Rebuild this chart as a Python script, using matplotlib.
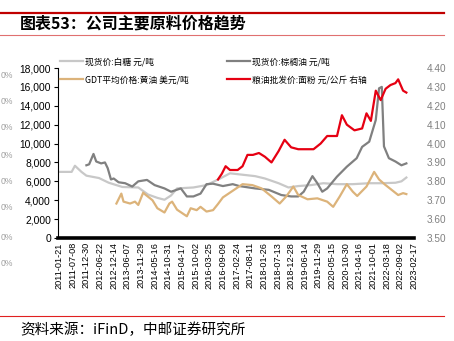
import matplotlib
matplotlib.use("Agg")
import matplotlib.pyplot as plt
from matplotlib.lines import Line2D
from matplotlib.ticker import FuncFormatter, MultipleLocator

plt.rcParams['font.family'] = ['Noto Sans CJK SC', 'DejaVu Sans']

# x axis: weekly data points, labelled every 25 points
tick_labels = ['2011-01-21', '2011-07-08', '2011-12-30', '2012-06-22', '2012-12-14',
               '2013-06-07', '2013-11-29', '2014-05-16', '2014-10-31', '2015-04-17',
               '2015-10-02', '2016-03-25', '2016-09-09', '2017-02-24', '2017-08-11',
               '2018-01-26', '2018-07-13', '2018-12-28', '2019-06-14', '2019-11-29',
               '2020-05-15', '2020-10-30', '2021-04-16', '2021-10-01', '2022-03-18',
               '2022-09-02', '2023-02-17']
tick_pos = [i * 25 for i in range(len(tick_labels))]

# 现货价:白糖 元/吨
sugar_idx = [0, 23, 29, 41, 50, 73, 91, 116, 145, 163, 180, 193, 205, 216, 246, 270, 295,
             313, 336, 359, 377, 402, 420, 438, 461, 484, 509, 538, 568, 591, 616, 627, 636]
sugar = [7000, 7000, 7650, 7000, 6600, 6350, 5850, 5400, 5350, 4600, 4250, 4050, 4500, 5250,
         5350, 5600, 6300, 6850, 6700, 6550, 6300, 5800, 5350, 5500, 5600, 5800, 5700, 5700,
         5800, 5800, 5850, 6000, 6400]

# 现货价:棕榈油 元/吨
palm_idx = [50, 55, 63, 68, 77, 84, 89, 95, 100, 109, 121, 134, 145, 161, 175, 193, 205, 223,
            234, 246, 259, 270, 282, 300, 318, 330, 359, 384, 407, 425, 438, 448, 464, 473, 482,
            491, 509, 527, 545, 555, 568, 580, 586, 591, 595, 604, 616, 627, 636]
palm = [7700, 7800, 8900, 8100, 7900, 8000, 7400, 6200, 6300, 5900, 5800, 5450, 6000, 6150,
        5600, 5250, 4900, 5250, 4400, 4400, 4700, 5700, 5750, 5500, 5700, 5500, 5250, 5100,
        4550, 4400, 4400, 4900, 6550, 5800, 4900, 5250, 6500, 7550, 8450, 9650, 10200, 12500,
        15850, 16000, 9700, 8450, 8100, 7700, 7900]

# GDT平均价格:黄油 美元/吨
butter_idx = [105, 114, 118, 130, 139, 145, 154, 159, 171, 180, 193, 202, 207, 216, 225, 234,
              241, 252, 259, 270, 282, 291, 300, 318, 336, 354, 371, 389, 404, 416, 429, 438,
              455, 473, 491, 502, 514, 527, 538, 546, 563, 577, 586, 598, 609, 621, 630, 636]
butter = [3650, 4700, 3850, 3650, 3850, 3500, 4800, 4550, 4000, 3150, 2700, 3650, 3850, 3000,
          2650, 2300, 3150, 2950, 3300, 2800, 2950, 3600, 4300, 5000, 5700, 5600, 5250, 4400,
          3650, 4400, 5450, 4550, 4100, 4200, 3850, 3300, 4400, 5700, 4900, 4450, 5450, 7000,
          6200, 5600, 5100, 4550, 4750, 4650]

# 粮油批发价:面粉 元/公斤 (右轴)
flour_idx = [291, 298, 305, 313, 318, 327, 336, 345, 355, 366, 377, 389, 402, 413, 425, 438,
             448, 466, 479, 491, 509, 518, 527, 541, 555, 563, 571, 580, 589, 598, 607, 616,
             621, 630, 636]
flour = [3.81, 3.84, 3.88, 3.86, 3.86, 3.86, 3.88, 3.94, 3.94, 3.95, 3.93, 3.90, 3.96, 4.02,
         3.98, 3.97, 3.97, 3.97, 4.00, 4.04, 4.04, 4.15, 4.10, 4.07, 4.08, 4.16, 4.12, 4.28,
         4.23, 4.29, 4.31, 4.32, 4.34, 4.28, 4.27]

fig = plt.figure(figsize=(4.54, 3.41), dpi=100)
W, H = 454, 341
ax = fig.add_axes([58 / W, 1 - 238 / H, (414 - 58) / W, (238 - 68) / H])
ax2 = ax.twinx()

l1, = ax.plot(sugar_idx, sugar, color='#c8c8c8', lw=1.6)
l2, = ax.plot(palm_idx, palm, color='#808080', lw=1.6)
l3, = ax.plot(butter_idx, butter, color='#dcb37a', lw=1.6)
l4, = ax2.plot(flour_idx, flour, color='#e60012', lw=1.6)

ax.set_xlim(-2, 638)
ax.set_ylim(0, 18000)
ax.yaxis.set_major_locator(MultipleLocator(2000))
ax.yaxis.set_major_formatter(FuncFormatter(lambda v, p: f'{int(v):,}'))
ax2.set_ylim(3.5, 4.4)
ax2.yaxis.set_major_locator(MultipleLocator(0.1))
ax2.yaxis.set_major_formatter(FuncFormatter(lambda v, p: f'{v:.2f}'))

ax.set_xticks(tick_pos)
ax.set_xticklabels(tick_labels, rotation=90, fontsize=6.6, family='Liberation Sans')
ax.tick_params(axis='x', length=0, pad=3)
ax.tick_params(axis='y', length=3, width=0.8, labelsize=7.4, pad=2)
for t in ax.get_yticklabels():
    t.set_family('Liberation Sans')
ax2.tick_params(axis='y', length=0, labelsize=7.2, labelcolor='#808080', pad=9)
for t in ax2.get_yticklabels():
    t.set_family('Liberation Sans')

for a in (ax, ax2):
    a.spines['top'].set_visible(False)
    a.spines['right'].set_visible(False)
ax2.spines['left'].set_visible(False)
ax2.spines['bottom'].set_visible(False)
ax.spines['bottom'].set_linewidth(2.6)
ax.spines['left'].set_linewidth(0.8)

fig.legend([l1, l3, l2, l4],
           ['现货价:白糖 元/吨', 'GDT平均价格:黄油 美元/吨',
            '现货价:棕榈油 元/吨', '粮油批发价:面粉 元/公斤 右轴'],
           loc='upper left', bbox_to_anchor=(60 / W, 1 - 57 / H), ncol=2,
           frameon=False, fontsize=6.3, handlelength=2.6, handletextpad=0.3,
           columnspacing=4.3, labelspacing=1.05, borderpad=0, borderaxespad=0)

# header / footer rules
fig.add_artist(Line2D([0, 444 / W], [1 - 12.5 / H] * 2, color='#c00000', lw=1.6))
fig.add_artist(Line2D([0, 444 / W], [1 - 35 / H] * 2, color='#e07070', lw=0.8))
fig.add_artist(Line2D([0, 444 / W], [1 - 316 / H] * 2, color='#e02020', lw=0.8))

fig.text(20 / W, 1 - 24 / H, '图表53：公司主要原料价格趋势', fontsize=11.5,
         fontweight='bold', va='center', ha='left')
fig.text(20 / W, 1 - 330 / H, '资料来源：iFinD，中邮证券研究所', fontsize=10.5,
         va='center', ha='left')

# labels left over from the neighbouring chart at the left edge
for y in [75, 102, 127, 155, 182, 208, 237, 263]:
    fig.text(1 / W, 1 - y / H, '0%', fontsize=6.2, color='#a0a0a0',
             family='Liberation Sans', va='center', ha='left')

fig.savefig('out.png', dpi=100)
